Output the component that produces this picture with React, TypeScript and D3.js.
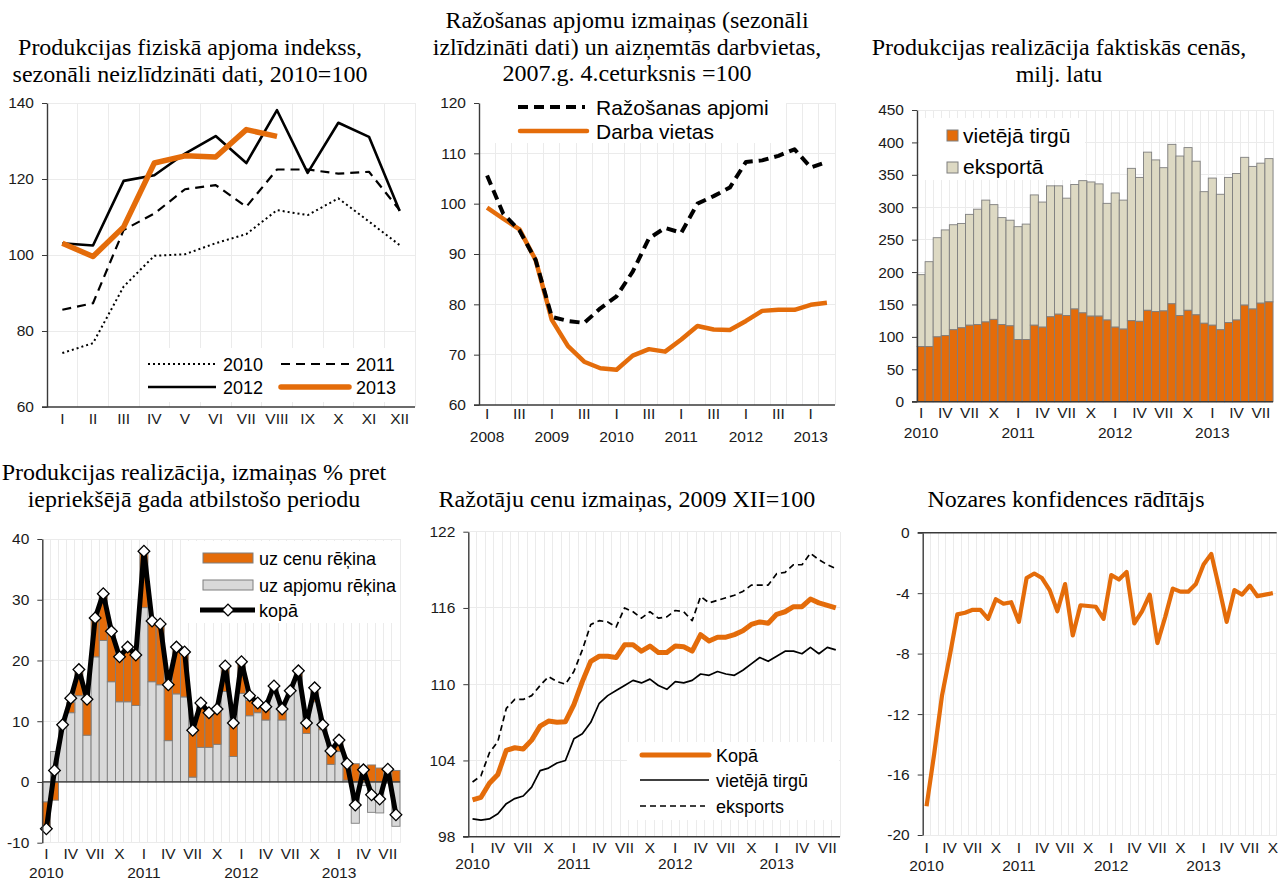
import React, { useEffect, useRef } from "react";
import * as d3 from "d3";

const ORANGE = "#e46c0a";
const BEIGE = "#ddd9c3";
const LIGHTGREY = "#d9d9d9";
const BAR_EDGE = "#7f7f7f";
const GRID = "#ebebeb";
const AXIS = "#3a3a3a";
const TEXT = "#1a1a1a";
const SANS = "'Liberation Sans', Arial, sans-serif";
const SERIF = "'Liberation Serif', 'Times New Roman', serif";

// panel 1 - monthly index by year
const romanMonths = ["I", "II", "III", "IV", "V", "VI", "VII", "VIII", "IX", "X", "XI", "XII"];
const idx2010 = [74.2, 76.8, 91.7, 99.8, 100.2, 103.1, 105.5, 111.8, 110.5, 114.9, 108.8, 102.6];
const idx2011 = [85.6, 87.3, 106.6, 110.9, 117.3, 118.4, 112.7, 122.5, 122.5, 121.4, 121.9, 111.8];
const idx2012 = [103.1, 102.5, 119.5, 121.0, 126.7, 131.3, 124.2, 138.1, 121.6, 134.8, 131.1, 111.6];
const idx2013 = [103.1, 99.6, 107.4, 124.2, 126.1, 125.8, 133.0, 131.2];

// panel 2 - quarterly
const quarterYears = [2008, 2009, 2010, 2011, 2012, 2013];
const quarterTicks = ["I", "", "III", ""];
const productionQ = [105.6, 98.0, 94.7, 88.8, 77.5, 76.7, 76.3, 79.2, 81.6, 86.5, 93.1, 95.2, 94.2, 100.0, 101.5, 103.2, 108.3, 108.6, 109.5, 110.8, 107.2, 108.3];
const jobsQ = [99.2, 97.0, 94.9, 88.8, 76.9, 71.7, 68.6, 67.3, 67.0, 69.8, 71.1, 70.6, 73.0, 75.7, 75.0, 74.9, 76.7, 78.7, 78.9, 78.9, 79.9, 80.3];

// monthly panels (from 2010 I)
const monthYears = [2010, 2011, 2012, 2013];
const monthTicks = ["I", "", "", "IV", "", "", "VII", "", "", "X", "", ""];

const salesDomestic = [85, 85, 100, 102, 111, 114, 118, 119, 123, 127, 119, 117, 96, 96, 118, 115, 131, 135, 133, 143, 137, 132, 132, 126, 115, 112, 125, 124, 141, 139, 140, 151, 133, 141, 134, 121, 118, 111, 122, 126, 149, 143, 152, 154];
const salesExport = [111, 131, 153, 163, 162, 161, 171, 178, 188, 177, 165, 163, 174, 178, 201, 193, 202, 198, 181, 192, 204, 207, 204, 180, 207, 199, 235, 222, 244, 234, 221, 246, 246, 251, 237, 203, 227, 209, 224, 226, 228, 220, 216, 221];

const growthVolume = [-3.3, 5.0, 8.9, 11.4, 14.2, 7.7, 20.6, 23.3, 16.5, 13.2, 13.2, 12.6, 28.7, 16.5, 16.0, 6.8, 14.5, 14.0, 0.8, 5.7, 5.7, 6.2, 14.9, 4.2, 14.6, 10.9, 11.4, 10.2, 15.2, 10.2, 14.6, 17.3, 8.0, 13.2, 8.6, 2.9, 5.0, 0.3, -6.8, -0.6, -5.0, -5.1, -0.2, -7.3];
const growthPrice = [-4.4, -3.0, 0.5, 1.7, 4.0, 5.8, 6.0, 7.4, 8.0, 7.0, 8.8, 8.0, 9.0, 9.6, 9.6, 8.9, 7.5, 7.1, 7.2, 7.0, 5.6, 5.4, 4.2, 5.5, 5.0, 2.5, 1.5, 2.0, 0.6, 1.5, 0.4, 0.8, 1.2, 1.8, 0.8, 1.8, 1.9, 2.8, 3.0, 2.6, 2.8, 2.3, 2.3, 1.9];
const growthTotal = [-7.7, 1.9, 9.4, 13.8, 18.5, 13.6, 27.0, 31.0, 24.8, 20.6, 22.2, 20.9, 38.0, 26.5, 26.0, 16.0, 22.2, 21.4, 8.5, 13.0, 11.4, 12.0, 19.1, 9.7, 19.8, 14.2, 13.0, 12.4, 15.8, 12.0, 15.0, 18.3, 9.7, 15.5, 9.4, 5.1, 6.9, 3.0, -3.8, 2.0, -2.1, -2.8, 2.1, -5.4];

const ppiTotal = [100.9, 101.1, 102.2, 102.9, 104.8, 105.0, 104.9, 105.6, 106.7, 107.1, 107.0, 107.05, 108.4, 110.2, 111.8, 112.2, 112.2, 112.1, 113.1, 113.1, 112.6, 113.0, 112.5, 112.5, 113.0, 112.95, 112.6, 113.9, 113.4, 113.7, 113.7, 113.9, 114.2, 114.7, 114.9, 114.8, 115.5, 115.7, 116.1, 116.1, 116.7, 116.4, 116.2, 116.0];
const ppiDomestic = [99.4, 99.3, 99.4, 99.8, 100.6, 101.0, 101.2, 101.9, 103.2, 103.4, 103.8, 104.0, 105.7, 106.1, 107.0, 108.5, 109.1, 109.5, 109.9, 110.3, 110.1, 110.4, 109.9, 109.6, 110.2, 110.1, 110.3, 110.8, 110.7, 111.0, 110.8, 110.7, 111.1, 111.6, 112.1, 111.8, 112.2, 112.6, 112.6, 112.4, 112.9, 112.4, 112.9, 112.7];
const ppiExport = [102.3, 102.8, 104.6, 105.5, 108.1, 108.8, 108.8, 109.1, 109.9, 110.6, 110.2, 110.0, 111.0, 112.7, 114.7, 115.0, 114.9, 114.5, 116.0, 115.7, 115.2, 115.7, 115.2, 115.3, 115.8, 115.7, 115.0, 116.9, 116.4, 116.6, 116.8, 117.0, 117.3, 117.8, 117.8, 117.8, 118.7, 118.8, 119.4, 119.4, 120.3, 119.8, 119.4, 119.1];

const confidence = [-18.1, -14.6, -10.8, -8.2, -5.4, -5.3, -5.1, -5.1, -5.7, -4.4, -4.7, -4.6, -5.9, -3.0, -2.7, -3.0, -3.8, -5.2, -3.4, -6.8, -4.8, -4.85, -4.9, -5.7, -2.8, -3.1, -2.6, -6.0, -5.2, -4.1, -7.3, -5.6, -3.7, -3.9, -3.9, -3.4, -2.1, -1.4, -3.6, -5.9, -3.8, -4.1, -3.5, -4.2, -4.1, -4.0];

type Sel = d3.Selection<any, any, any, any>;

const monthCats = (n: number) => d3.range(n).map((i) => `${monthYears[0] + Math.floor(i / 12)}-${i % 12}`);
const monthRoman = (n: number) => d3.range(n).map((i) => monthTicks[i % 12]);
const monthYearLabels = (n: number) => d3.range(n).map((i) => (i % 12 === 0 ? String(monthYears[0] + i / 12) : ""));

function title(svg: Sel, lines: string[], cx: number, y0: number) {
  const t = svg.append("text").attr("text-anchor", "middle").attr("font-family", SERIF)
    .attr("font-size", 24).attr("fill", "#000");
  lines.forEach((l, i) => t.append("tspan").attr("x", cx).attr("y", y0 + i * 26.5).text(l));
}

function panel(svg: Sel, x0: number, x1: number, yTop: number, yBot: number,
  domain: [number, number], ticks: number[], cats: string[]) {
  const g = svg.append("g");
  const x = d3.scaleBand<string>().domain(cats).range([x0, x1]).padding(0);
  const y = d3.scaleLinear().domain(domain).range([yBot, yTop]);
  const grid = g.append("g").attr("stroke", GRID).attr("stroke-width", 1).attr("shape-rendering", "crispEdges");
  cats.slice(1).forEach((c) => {
    grid.append("line").attr("x1", x(c)!).attr("x2", x(c)!).attr("y1", yTop).attr("y2", yBot);
  });
  grid.append("line").attr("x1", x1).attr("x2", x1).attr("y1", yTop).attr("y2", yBot);
  ticks.forEach((t) => {
    grid.append("line").attr("x1", x0).attr("x2", x1).attr("y1", y(t)).attr("y2", y(t));
  });
  return { g, x, y };
}

function yAxis(g: Sel, y: d3.ScaleLinear<number, number>, ticks: number[], xPos: number) {
  const a = g.append("g").attr("transform", `translate(${xPos},0)`)
    .call(d3.axisLeft(y).tickValues(ticks).tickSizeInner(5).tickSizeOuter(0).tickPadding(8)
      .tickFormat((d) => String(d)));
  a.attr("font-family", SANS).attr("font-size", 15.5);
  a.select(".domain").attr("stroke", AXIS).attr("stroke-width", 1.4);
  a.selectAll(".tick line").attr("stroke", AXIS);
  a.selectAll(".tick text").attr("fill", TEXT);
}

function hLine(g: Sel, x0: number, x1: number, yv: number, w = 1.4) {
  g.append("line").attr("x1", x0).attr("x2", x1).attr("y1", yv).attr("y2", yv)
    .attr("stroke", AXIS).attr("stroke-width", w);
}

function xLabels(g: Sel, x: d3.ScaleBand<string>, roman: string[], years: string[], yRoman: number, yYear: number) {
  const t = g.append("g").attr("font-family", SANS).attr("font-size", 15.5).attr("fill", TEXT)
    .attr("text-anchor", "middle");
  x.domain().forEach((c, i) => {
    const cx = x(c)! + x.bandwidth() / 2;
    if (roman[i]) t.append("text").attr("x", cx).attr("y", yRoman).text(roman[i]);
    if (years[i]) t.append("text").attr("x", cx).attr("y", yYear).text(years[i]);
  });
}

function drawLine(g: Sel, x: d3.ScaleBand<string>, y: d3.ScaleLinear<number, number>, values: number[],
  stroke: string, width: number, dash?: string) {
  const cats = x.domain();
  const line = d3.line<number>().x((_, i) => x(cats[i])! + x.bandwidth() / 2).y((d) => y(d));
  g.append("path").attr("d", line(values)).attr("fill", "none").attr("stroke", stroke)
    .attr("stroke-width", width).attr("stroke-linejoin", "round")
    .attr("stroke-dasharray", dash ?? null);
}

function legendText(g: Sel, x: number, y: number, label: string, size: number) {
  g.append("text").attr("x", x).attr("y", y).attr("font-family", SANS).attr("font-size", size)
    .attr("fill", "#000").text(label);
}

function drawP1(svg: Sel) {
  title(svg, ["Produkcijas fiziskā apjoma indekss,", "sezonāli neizlīdzināti dati, 2010=100"], 190, 55);
  const { g, x, y } = panel(svg, 47, 415, 103, 407, [60, 140], [80, 100, 120, 140], romanMonths);
  const series = [
    { v: idx2010, c: "#000", w: 2, dash: "2,3", label: "2010" },
    { v: idx2011, c: "#000", w: 2.2, dash: "9,6", label: "2011" },
    { v: idx2012, c: "#000", w: 2.6, dash: undefined, label: "2012" },
    { v: idx2013, c: ORANGE, w: 5.5, dash: undefined, label: "2013" },
  ];
  g.append("rect").attr("x", 140).attr("y", 348).attr("width", 274).attr("height", 54).attr("fill", "#fff");
  series.forEach((s) => drawLine(g, x, y, s.v, s.c, s.w, s.dash));
  series.forEach((s, i) => {
    const lx = i % 2 === 0 ? 148 : 281;
    const ly = i < 2 ? 364 : 387;
    g.append("line").attr("x1", lx).attr("x2", lx + 68).attr("y1", ly).attr("y2", ly)
      .attr("stroke", s.c).attr("stroke-width", s.w).attr("stroke-dasharray", s.dash ?? null)
      .attr("stroke-linecap", s.c === ORANGE ? "round" : "butt");
    legendText(g, lx + 75, ly + 6.5, s.label, 18);
  });
  hLine(g, 42, 415, 407);
  yAxis(g, y, [60, 80, 100, 120, 140], 47);
  xLabels(g, x, romanMonths, romanMonths.map(() => ""), 424, 0);
}

function drawP2(svg: Sel) {
  title(svg, ["Ražošanas apjomu izmaiņas (sezonāli", "izlīdzināti dati) un aizņemtās darbvietas,", "2007.g. 4.ceturksnis =100"], 627, 28);
  const cats = d3.range(productionQ.length).map((i) => `${quarterYears[0] + Math.floor(i / 4)}-${i % 4}`);
  const { g, x, y } = panel(svg, 479, 835, 103, 405, [60, 120], [70, 80, 90, 100, 110, 120], cats);
  g.append("rect").attr("x", 480).attr("y", 95).attr("width", 306).attr("height", 48).attr("fill", "#fff");
  drawLine(g, x, y, jobsQ, ORANGE, 4.5);
  drawLine(g, x, y, productionQ, "#000", 4, "10,6");
  g.append("line").attr("x1", 518).attr("x2", 585).attr("y1", 107).attr("y2", 107)
    .attr("stroke", "#000").attr("stroke-width", 4).attr("stroke-dasharray", "10,6");
  legendText(g, 596, 114.5, "Ražošanas apjomi", 21);
  g.append("line").attr("x1", 520).attr("x2", 587).attr("y1", 131).attr("y2", 131)
    .attr("stroke", ORANGE).attr("stroke-width", 4.5).attr("stroke-linecap", "round");
  legendText(g, 596, 139, "Darba vietas", 21);
  hLine(g, 474, 835, 405);
  yAxis(g, y, [60, 70, 80, 90, 100, 110, 120], 479);
  xLabels(g, x, cats.map((_, i) => quarterTicks[i % 4]),
    cats.map((_, i) => (i % 4 === 0 ? String(quarterYears[0] + i / 4) : "")), 419, 441.5);
}

function drawP3(svg: Sel) {
  title(svg, ["Produkcijas realizācija faktiskās cenās,", "milj. latu"], 1059, 55);
  const n = salesDomestic.length;
  const cats = monthCats(n);
  const ticks = d3.range(0, 451, 50);
  const { g, x, y } = panel(svg, 917, 1273, 110, 401.7, [0, 450], ticks.slice(1), cats);
  const bars = g.append("g").attr("stroke", BAR_EDGE).attr("stroke-width", 0.9);
  cats.forEach((c, i) => {
    const d = salesDomestic[i];
    const e = salesExport[i];
    bars.append("rect").attr("x", x(c)!).attr("width", x.bandwidth()).attr("y", y(d + e))
      .attr("height", y(d) - y(d + e)).attr("fill", BEIGE);
    bars.append("rect").attr("x", x(c)!).attr("width", x.bandwidth()).attr("y", y(d))
      .attr("height", y(0) - y(d)).attr("fill", ORANGE);
  });
  g.append("rect").attr("x", 919).attr("y", 118).attr("width", 166).attr("height", 62).attr("fill", "#fff");
  g.append("rect").attr("x", 947).attr("y", 130).attr("width", 11).attr("height", 11)
    .attr("fill", ORANGE).attr("stroke", BAR_EDGE);
  legendText(g, 963, 143, "vietējā tirgū", 21);
  g.append("rect").attr("x", 947).attr("y", 162).attr("width", 11).attr("height", 11)
    .attr("fill", BEIGE).attr("stroke", BAR_EDGE);
  legendText(g, 963, 174, "eksportā", 21);
  hLine(g, 912, 1273, y(0));
  yAxis(g, y, ticks, 917);
  xLabels(g, x, monthRoman(n), monthYearLabels(n), 417.5, 438);
}

function drawP4(svg: Sel) {
  title(svg, ["Produkcijas realizācija, izmaiņas % pret", "iepriekšējā gada atbilstošo periodu"], 194, 480);
  const n = growthTotal.length;
  const cats = monthCats(n);
  const ticks = [-10, 0, 10, 20, 30, 40];
  const { g, x, y } = panel(svg, 42.3, 400, 539, 842.7, [-10, 40], ticks, cats);
  const rows = cats.map((c, i) => ({ key: c, volume: growthVolume[i], price: growthPrice[i] }));
  const stacked = d3.stack<any>().keys(["volume", "price"]).offset(d3.stackOffsetDiverging)(rows);
  const fills: Record<string, string> = { volume: LIGHTGREY, price: ORANGE };
  stacked.forEach((layer) => {
    const lg = g.append("g").attr("fill", fills[layer.key]).attr("stroke", BAR_EDGE).attr("stroke-width", 0.9);
    layer.forEach((d: any) => {
      const top = Math.max(d[0], d[1]);
      const bot = Math.min(d[0], d[1]);
      lg.append("rect").attr("x", x(d.data.key)!).attr("width", x.bandwidth())
        .attr("y", y(top)).attr("height", y(bot) - y(top));
    });
  });
  hLine(g, 42.3, 400, y(0), 1.3);
  drawLine(g, x, y, growthTotal, "#000", 5);
  const diamond = d3.symbol(d3.symbolSquare, 68);
  g.append("g").selectAll("path").data(growthTotal).join("path")
    .attr("d", diamond())
    .attr("transform", (d, i) => `translate(${x(cats[i])! + x.bandwidth() / 2},${y(d)}) rotate(45)`)
    .attr("fill", "#fff").attr("stroke", "#000").attr("stroke-width", 1.3);

  g.append("rect").attr("x", 186).attr("y", 541).attr("width", 214).attr("height", 82).attr("fill", "#fff");
  g.append("rect").attr("x", 203).attr("y", 553).attr("width", 50).attr("height", 10)
    .attr("fill", ORANGE).attr("stroke", BAR_EDGE);
  legendText(g, 259, 564.5, "uz cenu rēķina", 18);
  g.append("rect").attr("x", 203).attr("y", 580).attr("width", 50).attr("height", 10)
    .attr("fill", LIGHTGREY).attr("stroke", BAR_EDGE);
  legendText(g, 259, 591.5, "uz apjomu rēķina", 18);
  g.append("line").attr("x1", 200).attr("x2", 255).attr("y1", 610).attr("y2", 610)
    .attr("stroke", "#000").attr("stroke-width", 5);
  g.append("path").attr("d", diamond()).attr("transform", "translate(228,610) rotate(45)")
    .attr("fill", "#fff").attr("stroke", "#000").attr("stroke-width", 1.3);
  legendText(g, 259, 617, "kopā", 18);

  yAxis(g, y, ticks, 42.3);
  xLabels(g, x, monthRoman(n), monthYearLabels(n), 859, 877.5);
}

function drawP5(svg: Sel) {
  title(svg, ["Ražotāju cenu izmaiņas, 2009 XII=100"], 627, 507);
  const n = ppiTotal.length;
  const cats = monthCats(n);
  const ticks = [98, 104, 110, 116, 122];
  const { g, x, y } = panel(svg, 468.3, 840, 531.7, 836.7, [98, 122], ticks.slice(1), cats);
  g.append("rect").attr("x", 627).attr("y", 742).attr("width", 212).attr("height", 78).attr("fill", "#fff");
  drawLine(g, x, y, ppiExport, "#000", 1.7, "6,4");
  drawLine(g, x, y, ppiDomestic, "#000", 1.7);
  drawLine(g, x, y, ppiTotal, ORANGE, 5);
  g.append("line").attr("x1", 642).attr("x2", 709).attr("y1", 755).attr("y2", 755)
    .attr("stroke", ORANGE).attr("stroke-width", 5).attr("stroke-linecap", "round");
  legendText(g, 716, 761.5, "Kopā", 18);
  g.append("line").attr("x1", 640).attr("x2", 709).attr("y1", 780).attr("y2", 780)
    .attr("stroke", "#000").attr("stroke-width", 1.7);
  legendText(g, 716, 786.5, "vietējā tirgū", 18);
  g.append("line").attr("x1", 640).attr("x2", 705).attr("y1", 806).attr("y2", 806)
    .attr("stroke", "#000").attr("stroke-width", 1.7).attr("stroke-dasharray", "6,4");
  legendText(g, 716, 812.5, "eksports", 18);
  hLine(g, 463, 840, 836.7);
  yAxis(g, y, ticks, 468.3);
  xLabels(g, x, monthRoman(n), monthYearLabels(n), 852.5, 869);
}

function drawP6(svg: Sel) {
  title(svg, ["Nozares konfidences rādītājs"], 1066, 507);
  const n = confidence.length;
  const cats = monthCats(n);
  const ticks = [-20, -16, -12, -8, -4, 0];
  const { g, x, y } = panel(svg, 922.7, 1276.7, 532.7, 835, [-20, 0], ticks.slice(0, 5), cats);
  drawLine(g, x, y, confidence, ORANGE, 4.2);
  hLine(g, 917.7, 1276.7, y(0));
  yAxis(g, y, ticks, 922.7);
  xLabels(g, x, monthRoman(n), monthYearLabels(n), 852.5, 871);
}

export default function App() {
  const ref = useRef<SVGSVGElement>(null);
  useEffect(() => {
    const svg = d3.select(ref.current);
    svg.selectAll("*").remove();
    drawP1(svg);
    drawP2(svg);
    drawP3(svg);
    drawP4(svg);
    drawP5(svg);
    drawP6(svg);
  }, []);
  return (
    <svg ref={ref} width={1280} height={879}
      style={{ position: "absolute", left: 0, top: 0, background: "#fff", display: "block" }} />
  );
}
